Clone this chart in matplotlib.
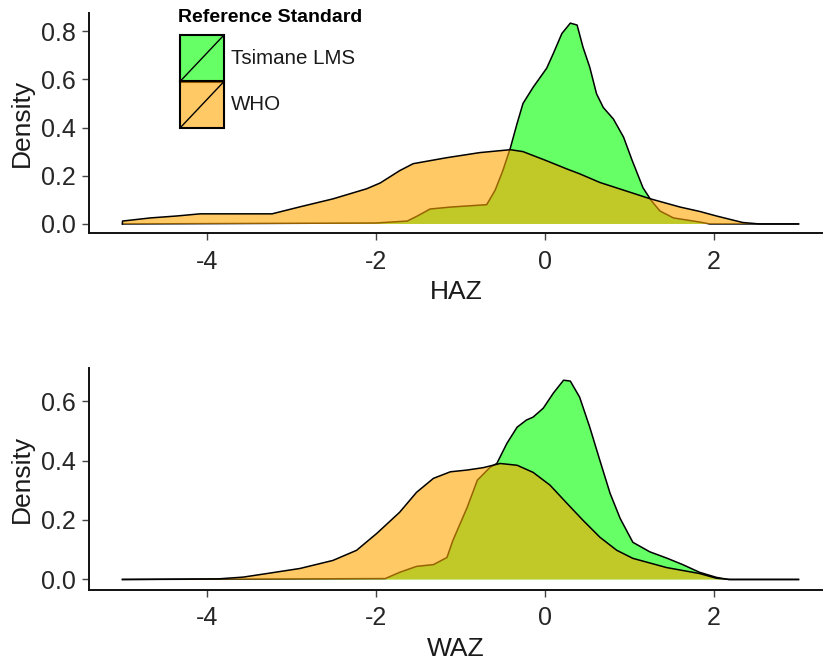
import numpy as np
import matplotlib
matplotlib.use("Agg")
import matplotlib.pyplot as plt
from matplotlib.patches import Rectangle
from matplotlib.lines import Line2D

plt.rcParams['font.family'] = ['Liberation Sans', 'DejaVu Sans']

# density curves (x, density)
haz_who_x = [-5.0, -4.67, -4.36, -4.08, -3.23, -2.9, -2.51, -2.11, -1.95, -1.72, -1.56, -1.16,
             -0.77, -0.41, -0.26, 0.02, 0.26, 0.41, 0.65, 0.80, 1.24, 1.6, 1.83, 2.03, 2.34, 2.54, 3.0]
haz_who_y = [0.012, 0.025, 0.033, 0.042, 0.042, 0.071, 0.104, 0.146, 0.17, 0.221, 0.25, 0.275,
             0.296, 0.308, 0.30, 0.262, 0.228, 0.208, 0.172, 0.155, 0.105, 0.07, 0.052, 0.033, 0.006, 0.0, 0.0]

haz_tsi_x = [-5.0, -2.0, -1.63, -1.51, -1.36, -1.12, -0.69, -0.59, -0.50, -0.41, -0.33, -0.26,
             -0.14, 0.02, 0.10, 0.20, 0.30, 0.38, 0.45, 0.53, 0.61, 0.69, 0.81, 0.93, 1.03, 1.16,
             1.26, 1.36, 1.52, 1.83, 1.95, 3.0]
haz_tsi_y = [0.0, 0.004, 0.012, 0.033, 0.062, 0.07, 0.08, 0.14, 0.22, 0.315, 0.417, 0.50,
             0.567, 0.646, 0.708, 0.79, 0.833, 0.825, 0.733, 0.65, 0.54, 0.483, 0.435, 0.36, 0.265, 0.15,
             0.096, 0.054, 0.025, 0.008, 0.0, 0.0]

waz_who_x = [-5.0, -3.87, -3.57, -3.29, -2.9, -2.51, -2.23, -1.99, -1.72, -1.52, -1.32, -1.12,
             -0.92, -0.73, -0.53, -0.33, -0.14, 0.06, 0.26, 0.45, 0.65, 0.85, 1.04, 1.44, 1.83,
             2.03, 2.19, 3.0]
waz_who_y = [0.0, 0.002, 0.008, 0.02, 0.037, 0.064, 0.098, 0.155, 0.226, 0.293, 0.34, 0.362,
             0.368, 0.376, 0.39, 0.384, 0.36, 0.317, 0.256, 0.199, 0.142, 0.098, 0.071, 0.04, 0.02,
             0.004, 0.0, 0.0]

waz_tsi_x = [-5.0, -1.89, -1.72, -1.52, -1.32, -1.16, -1.09, -0.92, -0.80, -0.65, -0.57, -0.45,
             -0.33, -0.22, -0.14, -0.02, 0.10, 0.22, 0.30, 0.41, 0.53, 0.65, 0.77, 0.89, 1.04,
             1.24, 1.44, 1.63, 1.83, 2.03, 2.17, 3.0]
waz_tsi_y = [0.0, 0.003, 0.024, 0.044, 0.05, 0.074, 0.131, 0.243, 0.334, 0.377, 0.39, 0.458,
             0.512, 0.536, 0.546, 0.576, 0.627, 0.67, 0.667, 0.613, 0.512, 0.40, 0.29, 0.205, 0.125,
             0.093, 0.072, 0.05, 0.024, 0.007, 0.0, 0.0]

xticks = [-4, -2, 0, 2]
haz_yticks = [0.0, 0.2, 0.4, 0.6, 0.8]
waz_yticks = [0.0, 0.2, 0.4, 0.6]
groups = ['Tsimane LMS', 'WHO']
fills = [(0, 1, 0, 0.6), (1, 0.647, 0, 0.6)]

W, H = 823, 667
fig = plt.figure(figsize=(W / 100, H / 100), dpi=100)


def fx(px):
    return px / W


def fy(py):
    return 1 - py / H


ax1 = fig.add_axes([fx(89), fy(233), 1 - fx(89), fy(12.5) - fy(233)])
ax2 = fig.add_axes([fx(89), fy(589.5), 1 - fx(89), fy(368) - fy(589.5)])


def density(ax, x, y, fc):
    xs = np.r_[x[0], x, x[-1]]
    ys = np.r_[0, y, 0]
    ax.fill(xs, ys, facecolor=fc, edgecolor='none', zorder=2)
    ax.plot(xs, ys, color='black', lw=1.1, zorder=2, solid_joinstyle='round')


def style(ax, yticks, ylim):
    ax.set_xlim(-5.396, 3.29)
    ax.set_ylim(*ylim)
    ax.set_xticks(xticks)
    ax.set_xticklabels([str(t) for t in xticks])
    ax.set_yticks(yticks)
    ax.set_yticklabels(['%.1f' % t for t in yticks])
    for s in ['top', 'right']:
        ax.spines[s].set_visible(False)
    for s in ['left', 'bottom']:
        ax.spines[s].set_linewidth(1.4)
        ax.spines[s].set_color('#111111')
    ax.tick_params(length=5, width=1, color='#444444', labelsize=18, labelcolor='#262626')
    ax.tick_params(axis='x', pad=7)
    ax.tick_params(axis='y', pad=4.5)


# green first, orange drawn on top
density(ax1, haz_tsi_x, haz_tsi_y, fills[0])
density(ax1, haz_who_x, haz_who_y, fills[1])
density(ax2, waz_tsi_x, waz_tsi_y, fills[0])
density(ax2, waz_who_x, waz_who_y, fills[1])

style(ax1, haz_yticks, (-0.0375, 0.877))
style(ax2, waz_yticks, (-0.0337, 0.711))

title_kw = dict(fontsize=19, color='#1a1a1a', ha='center', va='center')
fig.text(fx(456), fy(292), 'HAZ', **title_kw)
fig.text(fx(456), fy(648.5), 'WAZ', **title_kw)
fig.text(fx(22), (fy(12.5) + fy(233)) / 2, 'Density', rotation=90, **title_kw)
fig.text(fx(22), (fy(368) + fy(589.5)) / 2, 'Density', rotation=90, **title_kw)

# legend
fig.text(fx(178), fy(17), 'Reference Standard', fontsize=14, fontweight='bold',
         ha='left', va='center', color='black')
key_top = [35, 81.5]
for i, g in enumerate(groups):
    x0, x1 = fx(180), fx(224)
    y0, y1 = fy(key_top[i] + 46.5), fy(key_top[i])
    fig.add_artist(Rectangle((x0, y0), x1 - x0, y1 - y0, facecolor=fills[i],
                             edgecolor='black', lw=1.5, transform=fig.transFigure))
    fig.add_artist(Line2D([x0, x1], [y0, y1], color='black', lw=1, transform=fig.transFigure))
    fig.text(fx(231), (y0 + y1) / 2, g, fontsize=14.8, ha='left', va='center', color='#1a1a1a')

fig.savefig('out.png', dpi=100)
